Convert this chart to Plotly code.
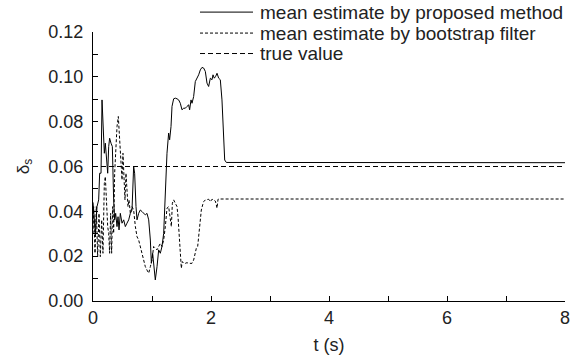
import plotly.graph_objects as go

# proposed method mean estimate
t_prop = [0.0, 0.011, 0.040, 0.068, 0.096, 0.113, 0.136, 0.153, 0.169, 0.192, 0.209, 0.226, 0.249,
          0.266, 0.282, 0.305, 0.328, 0.350, 0.367, 0.384, 0.407, 0.424, 0.441, 0.463, 0.492,
          0.520, 0.548, 0.576, 0.605, 0.633, 0.661, 0.689, 0.706, 0.729, 0.746, 0.774, 0.802,
          0.831, 0.859, 0.887, 0.915, 0.944, 0.972, 0.989, 1.011, 1.028, 1.056, 1.085, 1.113,
          1.141, 1.169, 1.198, 1.226, 1.254, 1.282, 1.299, 1.322, 1.339, 1.367, 1.395, 1.424,
          1.452, 1.480, 1.508, 1.537, 1.565, 1.593, 1.621, 1.638, 1.661, 1.678, 1.706, 1.734,
          1.763, 1.791, 1.819, 1.847, 1.876, 1.904, 1.932, 1.960, 1.989, 2.017, 2.034, 2.056,
          2.079, 2.102, 2.130, 2.158, 2.186, 2.215, 2.232, 2.260, 8.0]
v_prop = [0.044, 0.0391, 0.0302, 0.0421, 0.0451, 0.0570, 0.0570, 0.0897, 0.0793, 0.0659, 0.0704,
          0.0629, 0.0570, 0.0689, 0.0726, 0.0704, 0.0689, 0.0451, 0.0362, 0.0391, 0.0332, 0.0376,
          0.0317, 0.0391, 0.0347, 0.0362, 0.0332, 0.0347, 0.0362, 0.0391, 0.0406, 0.0600, 0.0570,
          0.0421, 0.0362, 0.0391, 0.0406, 0.0399, 0.0391, 0.0384, 0.0391, 0.0362, 0.0272, 0.0168,
          0.0213, 0.0153, 0.0094, 0.0153, 0.0228, 0.0213, 0.0243, 0.0302, 0.0510, 0.0659, 0.0749,
          0.0719, 0.0778, 0.0868, 0.0902, 0.0905, 0.0902, 0.0897, 0.0882, 0.0853, 0.0860, 0.0860,
          0.0868, 0.0875, 0.0853, 0.0897, 0.0882, 0.0912, 0.0979, 0.0994, 0.1009, 0.1031, 0.1042,
          0.1039, 0.1024, 0.0972, 0.0957, 0.0994, 0.0987, 0.1009, 0.0994, 0.1002, 0.1016, 0.0994,
          0.0987, 0.0897, 0.0719, 0.0629, 0.0618, 0.0617]

# bootstrap filter mean estimate
t_boot = [0.0, 0.011, 0.034, 0.056, 0.079, 0.102, 0.124, 0.147, 0.169, 0.192, 0.209, 0.226, 0.249,
          0.266, 0.282, 0.299, 0.316, 0.333, 0.350, 0.367, 0.384, 0.407, 0.429, 0.452, 0.475,
          0.492, 0.508, 0.525, 0.542, 0.559, 0.576, 0.593, 0.610, 0.633, 0.661, 0.689, 0.718,
          0.746, 0.774, 0.802, 0.831, 0.859, 0.887, 0.915, 0.944, 0.972, 1.000, 1.028, 1.056,
          1.085, 1.113, 1.141, 1.169, 1.198, 1.226, 1.254, 1.282, 1.311, 1.328, 1.345, 1.367,
          1.395, 1.424, 1.441, 1.458, 1.480, 1.497, 1.514, 1.537, 1.565, 1.593, 1.621, 1.650,
          1.678, 1.706, 1.734, 1.751, 1.774, 1.797, 1.819, 1.836, 1.859, 1.876, 1.904, 1.932,
          1.960, 1.989, 2.017, 2.045, 2.073, 2.090, 2.102, 2.119, 2.158, 8.0]
v_boot = [0.030, 0.0421, 0.0213, 0.0421, 0.0198, 0.0391, 0.0198, 0.0362, 0.0213, 0.0525, 0.0555,
          0.0451, 0.0332, 0.0302, 0.0213, 0.0391, 0.0213, 0.0421, 0.0302, 0.0570, 0.0689, 0.0778,
          0.0823, 0.0719, 0.0659, 0.0540, 0.0659, 0.0510, 0.0451, 0.0570, 0.0481, 0.0421, 0.0451,
          0.0391, 0.0421, 0.0406, 0.0332, 0.0287, 0.0272, 0.0243, 0.0213, 0.0183, 0.0153, 0.0138,
          0.0124, 0.0153, 0.0183, 0.0243, 0.0235, 0.0228, 0.0243, 0.0257, 0.0243, 0.0272, 0.0332,
          0.0414, 0.0421, 0.0347, 0.0332, 0.0436, 0.0451, 0.0436, 0.0421, 0.0376, 0.0302, 0.0198,
          0.0146, 0.0176, 0.0168, 0.0168, 0.0171, 0.0168, 0.0168, 0.0168, 0.0183, 0.0213, 0.0235,
          0.0243, 0.0302, 0.0362, 0.0406, 0.0429, 0.0443, 0.0451, 0.0451, 0.0454, 0.0443, 0.0454,
          0.0451, 0.0446, 0.0429, 0.0414, 0.0454, 0.0455, 0.0455]

# true value
t_true = [0.0, 8.0]
v_true = [0.06, 0.06]

series_names = ["mean estimate by proposed method",
                "mean estimate by bootstrap filter",
                "true value"]
series_dash = ["solid", "3px,2px", "5px,3px"]

FONT = "Liberation Sans, Arial, sans-serif"
TXT = "#222"

fig = go.Figure()
for tx, vy, nm, ds in zip([t_prop, t_boot, t_true], [v_prop, v_boot, v_true],
                          series_names, series_dash):
    fig.add_trace(go.Scatter(x=tx, y=vy, mode="lines", name=nm, showlegend=False,
                             line=dict(color="black", width=1, dash=ds)))

# legend drawn in paper coordinates (rows above the plot area, top right)
leg_x0, leg_x1, leg_tx = 0.2267, 0.339, 0.3496
leg_rows = [1.074, 0.996, 0.920]
for nm, ds, yy in zip(series_names, series_dash, leg_rows):
    fig.add_shape(type="line", xref="paper", yref="paper", x0=leg_x0, x1=leg_x1, y0=yy, y1=yy,
                  line=dict(color="black", width=1, dash=ds))
    fig.add_annotation(xref="paper", yref="paper", x=leg_tx, y=yy, text=nm, showarrow=False,
                       xanchor="left", yanchor="middle",
                       font=dict(family=FONT, size=19, color=TXT))

axis_common = dict(showline=True, linecolor="black", linewidth=1, mirror=False,
                   showgrid=False, zeroline=False, ticks="inside", ticklen=5,
                   tickcolor="black", tickwidth=1,
                   tickfont=dict(family=FONT, size=18, color=TXT))

fig.update_xaxes(range=[0, 8], tick0=0, dtick=2,
                 minor=dict(dtick=1, ticks="inside", ticklen=5, tickcolor="black"),
                 title=dict(text="t (s)", font=dict(family=FONT, size=18, color=TXT), standoff=11),
                 **axis_common)
fig.update_yaxes(range=[0, 0.12], tick0=0, dtick=0.02, tickformat=".2f",
                 minor=dict(dtick=0.01, ticks="inside", ticklen=5, tickcolor="black"),
                 ticklabelstandoff=5,
                 title=dict(text="δ<sub>s</sub>", font=dict(family=FONT, size=17, color=TXT), standoff=14),
                 **axis_common)

fig.update_layout(
    width=580, height=360,
    margin=dict(l=93, r=15, t=32, b=59, autoexpand=False),
    paper_bgcolor="white", plot_bgcolor="white",
    showlegend=False,
)

fig.write_html("out.html")
